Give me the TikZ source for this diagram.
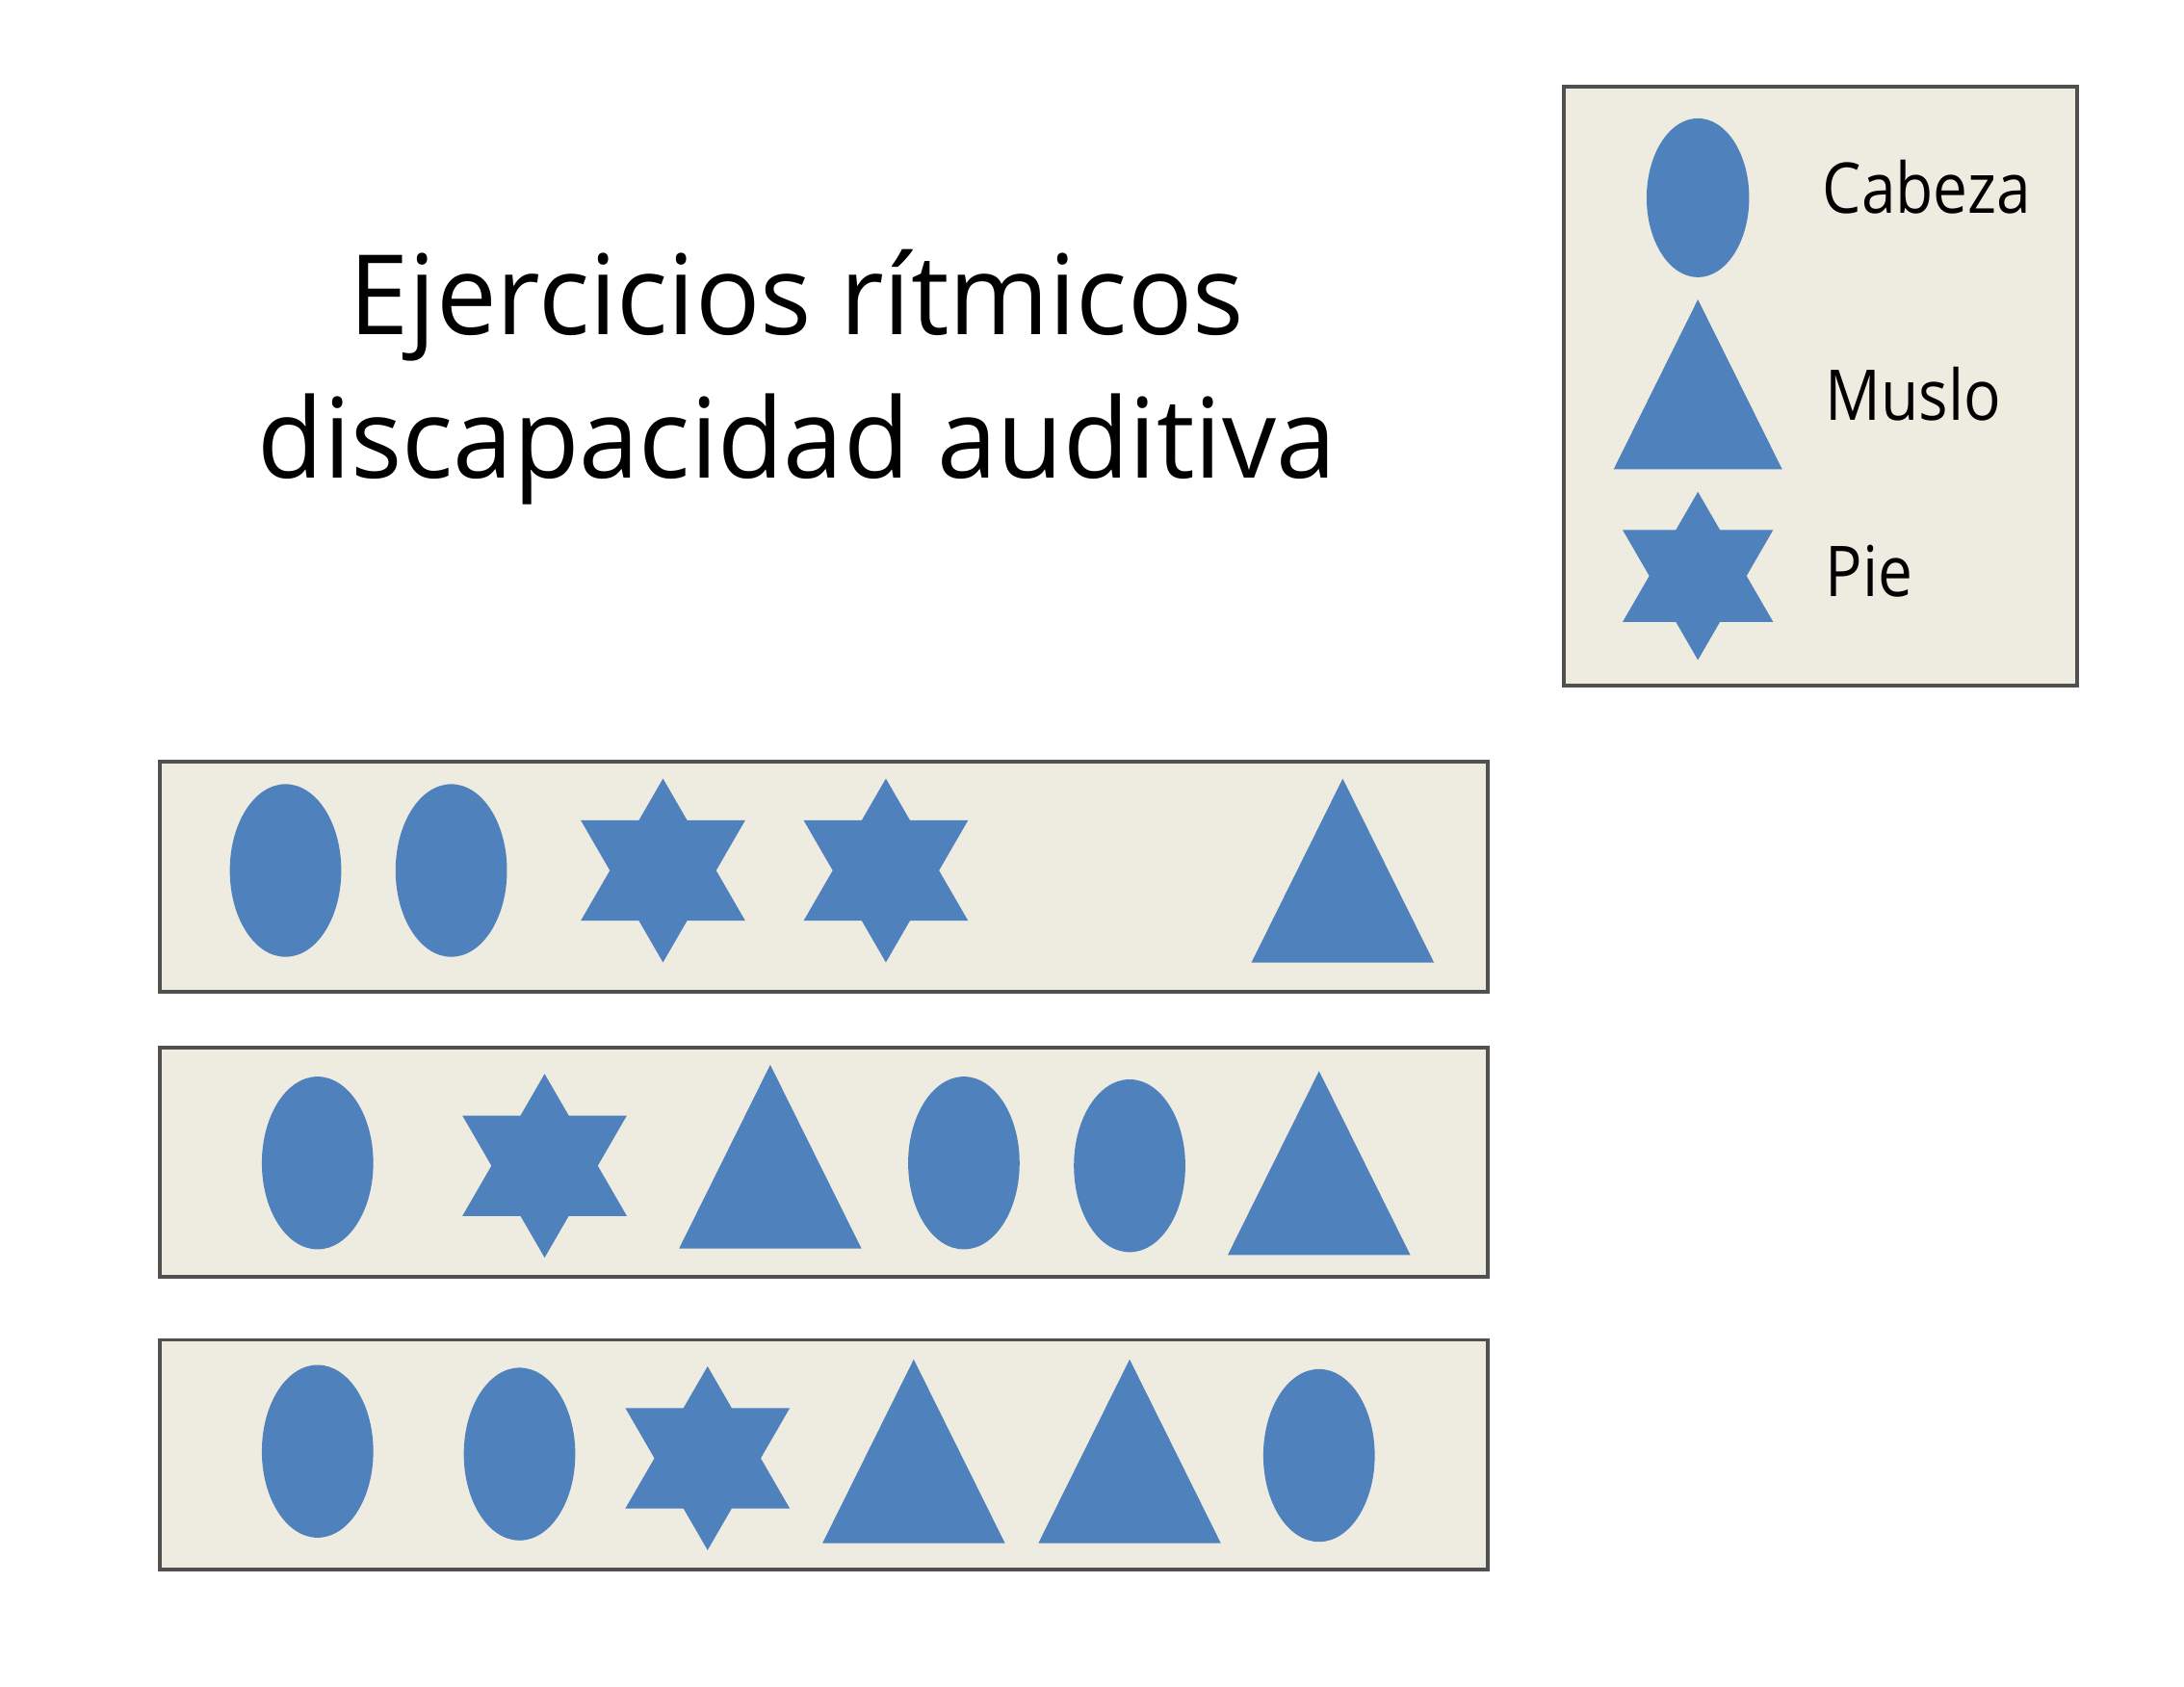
\documentclass[tikz,border=0pt]{standalone}
\usepackage{fontspec}
\setmainfont{Open Sans}
\newfontfamily\titlefont[FakeStretch=0.97]{Open Sans}
\newfontfamily\legendfont[FakeStretch=0.88]{Open Sans}
\definecolor{shapeblue}{HTML}{4F81BD}
\definecolor{boxtan}{HTML}{EEECE1}
\definecolor{boxline}{HTML}{505050}
\begin{document}
\begin{tikzpicture}[x=0.14464mm,y=-0.14464mm,
  panel/.style={fill=boxtan,draw=boxline,line width=1.1pt},
  titletext/.style={font=\titlefont\fontsize{32.8}{40}\selectfont,anchor=base,inner sep=0pt},
  legendtext/.style={font=\legendfont\fontsize{20.7}{25}\selectfont,anchor=base west,inner sep=0pt},
  cabezapic/.pic={\fill[shapeblue] (0,0) ellipse [x radius=40, y radius=62];},
  muslopic/.pic={\fill[shapeblue] (0,-66) -- (65.5,66) -- (-65.5,66) -- cycle;},
  piepic/.pic={\fill[shapeblue,nonzero rule] (0,-66) -- (59,36) -- (-59,36) -- cycle
                                (0,66) -- (-59,-36) -- (59,-36) -- cycle;}
]
\fill[white] (0,0) rectangle (1568,1210.6);
\useasboundingbox (0,0) rectangle (1568,1210.6);

% title
\node[titletext] (title1) at (572,240) {Ejercicios rítmicos};
\node[titletext] (title2) at (572,343) {discapacidad auditiva};

% legend
\draw[panel] (1123,62) rectangle (1491,492);
\pic[scale=0.92] at (1219,142) {cabezapic};
\pic[scale=0.924] at (1219,276) {muslopic};
\pic[scale=0.915] at (1219,413.5) {piepic};
\node[legendtext] (lcabeza) at (1308,153) {Cabeza};
\node[legendtext] (lmuslo) at (1310,302) {Muslo};
\node[legendtext] (lpie) at (1310,428) {Pie};

% row 1
\draw[panel] (115,547) rectangle (1068,712);
\pic at (205,625) {cabezapic};
\pic at (324,625) {cabezapic};
\pic at (476,625) {piepic};
\pic at (636,625) {piepic};
\pic at (964,625) {muslopic};

% row 2
\draw[panel] (115,752) rectangle (1068,917);
\pic at (228,835) {cabezapic};
\pic at (391,837) {piepic};
\pic at (553,830.5) {muslopic};
\pic at (692,835) {cabezapic};
\pic at (811,837) {cabezapic};
\pic at (947,835) {muslopic};

% row 3
\draw[panel] (115,962) rectangle (1068,1127);
\pic at (228,1042) {cabezapic};
\pic at (373,1044) {cabezapic};
\pic at (508,1047) {piepic};
\pic at (656,1042) {muslopic};
\pic at (811,1042) {muslopic};
\pic at (947,1045) {cabezapic};
\end{tikzpicture}
\end{document}
